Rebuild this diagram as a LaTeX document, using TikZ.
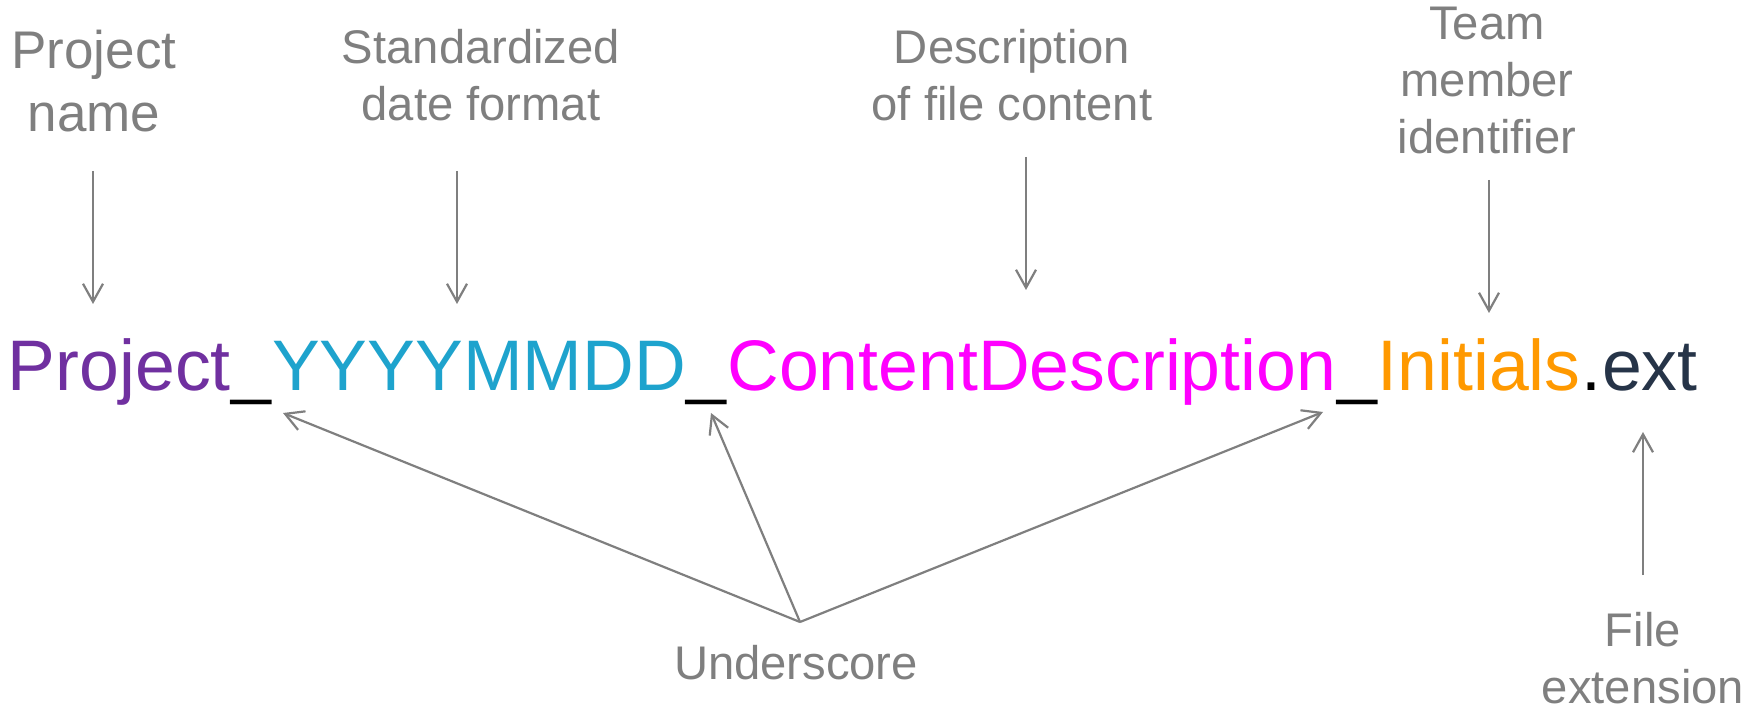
\documentclass[tikz,border=0pt]{standalone}
\usepackage{fontspec}
\setmainfont{Liberation Sans}
\usetikzlibrary{arrows.meta}
\definecolor{fnpurple}{RGB}{112,48,160}
\definecolor{fnblue}{RGB}{30,163,205}
\definecolor{fnmagenta}{RGB}{255,0,255}
\definecolor{fnorange}{RGB}{255,153,0}
\definecolor{fnslate}{RGB}{38,52,72}
\definecolor{fngray}{RGB}{127,127,127}

\begin{document}
\begin{tikzpicture}[x=0.5pt, y=-0.5pt,
  every node/.style={inner sep=0pt},
  part/.style={anchor=base west, font=\fontsize{35.8}{43}\selectfont},
  lbl/.style={anchor=north, align=center, text=fngray,
    font=\fontsize{23.6}{28.5}\selectfont},
  ptr/.style={draw=fngray, line width=1.1pt,
    -{Straight Barb[length=9pt, width=10pt]}}]

  \useasboundingbox (0,0) rectangle (1763,711);

  % === FILE NAME ===
  \node[part, text=fnpurple] (proj) at (7.5,391) {Project};
  \node[part] (us1) at (proj.base east) {\_};
  \node[part, text=fnblue] (date) at (us1.base east) {YYYYMMDD};
  \node[part] (us2) at (date.base east) {\_};
  \node[part, text=fnmagenta] (desc) at (us2.base east) {ContentDescription};
  \node[part] (us3) at (desc.base east) {\_};
  \node[part, text=fnorange] (init) at (us3.base east) {Initials};
  \node[part] (dot) at (init.base east) {.};
  \node[part, text=fnslate] (ext) at (dot.base east) {ext};

  % === LABELS ABOVE ===
  \node[lbl, font=\fontsize{26.5}{31.5}\selectfont] (lblproj) at (94,30)
    {Project\\name};
  \node[lbl] (lbldate) at (481,28.5) {Standardized\\date format};
  \node[lbl] (lbldesc) at (1012,29) {Description\\of file content};
  \node[lbl] (lblinit) at (1487,7) {Team\\member\\identifier};

  % Arrows down to the parts
  \coordinate (projtail) at (93,171);
  \coordinate (projhead) at (93,304);
  \coordinate (datetail) at (457,171);
  \coordinate (datehead) at (457,304);
  \coordinate (desctail) at (1026,157);
  \coordinate (deschead) at (1026,290);
  \coordinate (inittail) at (1489,180);
  \coordinate (inithead) at (1489,313);
  \draw[ptr] (projtail) -- (projhead);
  \draw[ptr] (datetail) -- (datehead);
  \draw[ptr] (desctail) -- (deschead);
  \draw[ptr] (inittail) -- (inithead);

  % === LABELS BELOW ===
  \node[lbl] (lblus) at (796,645) {Underscore};
  \node[lbl] (lblext) at (1643,612) {File\\extension};

  % Underscores, all from one point
  \coordinate (usapex) at (800,622);
  \coordinate (ushead1) at (283,413);
  \coordinate (ushead2) at (711,413);
  \coordinate (ushead3) at (1323,412);
  \draw[ptr] (usapex) -- (ushead1);
  \draw[ptr] (usapex) -- (ushead2);
  \draw[ptr] (usapex) -- (ushead3);

  % Extension arrow points up
  \coordinate (exttail) at (1643,575);
  \coordinate (exthead) at (1643,432);
  \draw[ptr] (exttail) -- (exthead);

\end{tikzpicture}
\end{document}
